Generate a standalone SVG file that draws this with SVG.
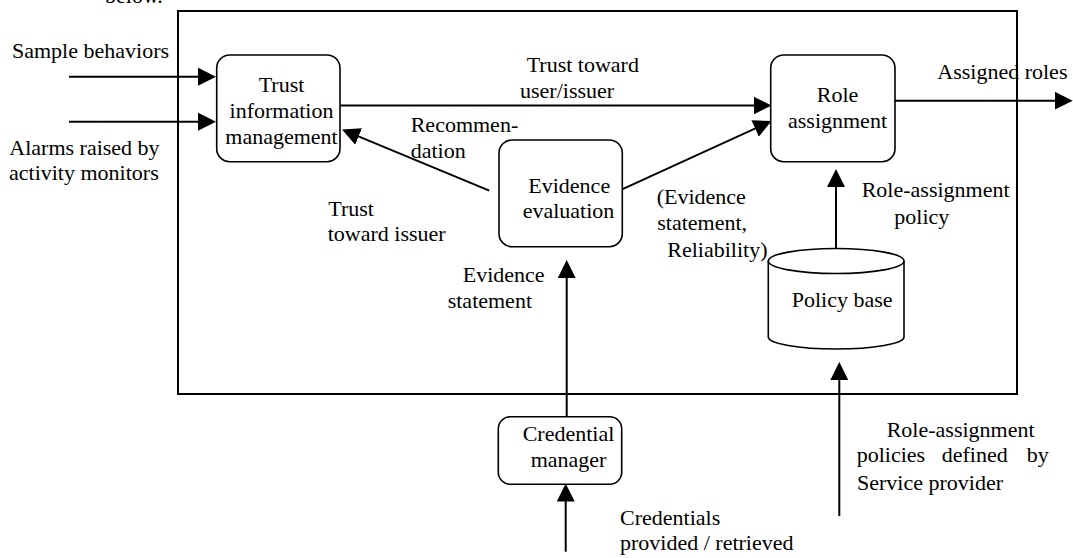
<svg xmlns="http://www.w3.org/2000/svg" width="1073" height="558" viewBox="0 0 1073 558">
<style>
text{font-size:22px;fill:#000}
.c{text-anchor:middle}
.box{fill:#fff;stroke:#000;stroke-width:1.6}
.ln{fill:none;stroke:#000;stroke-width:2}
</style>
<defs>
<marker id="ah" markerWidth="18" markerHeight="18" refX="10" refY="9" orient="auto" markerUnits="userSpaceOnUse"><path d="M0,0 L18,9 L0,18 z" fill="#000"/></marker>
</defs>
<rect width="1073" height="558" fill="#fff"/>
<g font-family="'Liberation Serif', 'Times New Roman', 'DejaVu Serif', serif">
<text x="105" y="3">below.</text>
<rect id="system" x="178" y="11" width="839" height="383" fill="none" stroke="#000" stroke-width="2"/>
<g id="connectors">
<line class="ln" x1="69" y1="76.7" x2="208" y2="76.7" marker-end="url(#ah)"/>
<line class="ln" x1="69" y1="121.7" x2="208" y2="121.7" marker-end="url(#ah)"/>
<line class="ln" x1="340" y1="105.6" x2="763.5" y2="105.6" marker-end="url(#ah)"/>
<line class="ln" x1="489.3" y1="190.7" x2="349.4" y2="132.6" marker-end="url(#ah)"/>
<line class="ln" x1="619.3" y1="190.7" x2="764.2" y2="124.3" marker-end="url(#ah)"/>
<line class="ln" x1="895" y1="100.7" x2="1064.7" y2="100.7" marker-end="url(#ah)"/>
<line class="ln" x1="566.7" y1="416.5" x2="566.7" y2="268" marker-end="url(#ah)"/>
<line class="ln" x1="565.7" y1="551.7" x2="565.7" y2="491.5" marker-end="url(#ah)"/>
<line class="ln" x1="836" y1="262" x2="836" y2="177" marker-end="url(#ah)"/>
<line class="ln" x1="839.3" y1="516" x2="839.3" y2="370" marker-end="url(#ah)"/>
</g>
<g id="trust-info">
<rect class="box" x="216.7" y="55" width="123.3" height="106.7" rx="13"/>
<text class="c" x="281.5" y="91.7">Trust</text>
<text class="c" x="281.5" y="118.3">information</text>
<text class="c" x="281.5" y="144.3">management</text>
</g>
<g id="role-assignment">
<rect class="box" x="770.7" y="55" width="124.3" height="106.7" rx="13"/>
<text class="c" x="837.5" y="101.7">Role</text>
<text class="c" x="837.5" y="128.3">assignment</text>
</g>
<g id="evidence-evaluation">
<rect class="box" x="499" y="140" width="123.3" height="106.7" rx="13"/>
<text x="528.3" y="192.7">Evidence</text>
<text x="522.7" y="218.3">evaluation</text>
</g>
<g id="credential-manager">
<rect class="box" x="498.3" y="416.7" width="123.4" height="67.6" rx="12"/>
<text x="522.7" y="441">Credential</text>
<text x="530.7" y="467.3">manager</text>
</g>
<g id="policy-base">
<path class="box" d="M768.3,261 V337 A67.85,12 0 0 0 904,337 V261"/>
<ellipse class="box" cx="836.15" cy="261" rx="67.85" ry="12.5"/>
<text x="791.7" y="307.3">Policy base</text>
</g>
<g id="labels">
<text x="12" y="58">Sample behaviors</text>
<text x="9.3" y="155">Alarms raised by</text>
<text x="9" y="180">activity monitors</text>
<text x="526.7" y="71.7">Trust toward</text>
<text x="520" y="98.3">user/issuer</text>
<text x="410.7" y="131.7">Recommen-</text>
<text x="410.7" y="158.3">dation</text>
<text x="328.3" y="215.7">Trust</text>
<text x="327.7" y="240.7">toward issuer</text>
<text x="656.7" y="204">(Evidence</text>
<text x="657.3" y="230">statement,</text>
<text x="667.3" y="256.7">Reliability)</text>
<text x="937.3" y="79.3">Assigned roles</text>
<text x="861.7" y="196.7">Role-assignment</text>
<text x="894.3" y="224">policy</text>
<text x="462.7" y="281.7">Evidence</text>
<text x="447.7" y="308.3">statement</text>
<text x="620" y="525">Credentials</text>
<text x="620" y="550">provided / retrieved</text>
<text x="886.7" y="437.3">Role-assignment</text>
<text y="462.3"><tspan x="856.7">policies</tspan><tspan x="941.7">defined</tspan><tspan x="1026.7">by</tspan></text>
<text x="857" y="490">Service provider</text>
</g>
</g>
</svg>
